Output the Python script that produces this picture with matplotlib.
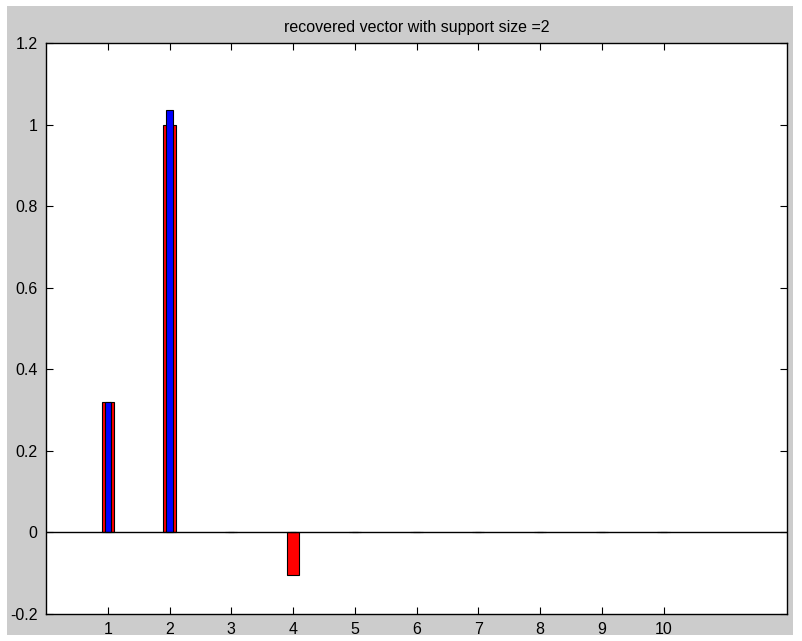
import matplotlib
matplotlib.use('Agg')
from matplotlib import pyplot as plt
from matplotlib.patches import Rectangle

plt.rcParams['font.family'] = ['Liberation Sans', 'DejaVu Sans']

# original vector (red, wide) and recovered vector (blue, narrow)
positions = [1, 2, 3, 4, 5, 6, 7, 8, 9, 10]
original = [0.32, 1.0, 0, -0.105, 0, 0, 0, 0, 0, 0]
recovered = [0.32, 1.035, 0, 0, 0, 0, 0, 0, 0, 0]
y_ticks = [-0.2, 0, 0.2, 0.4, 0.6, 0.8, 1, 1.2]
y_labels = ['-0.2', '0', '0.2', '0.4', '0.6', '0.8', '1', '1.2']

fig = plt.figure(figsize=(8.02, 6.41), dpi=100, facecolor='white')
# grey figure panel with a thin white margin like the screenshot
fig.patches.append(Rectangle((7 / 802, 6 / 641), 786 / 802, 629 / 641,
                             transform=fig.transFigure, facecolor='#cccccc',
                             edgecolor='none', zorder=-1))

ax = fig.add_axes([46 / 802, 27 / 641, 741 / 802, 571 / 641])
ax.set_facecolor('white')

ax.bar(positions, original, width=0.2, color='red', edgecolor='black', linewidth=0.8, zorder=2)
ax.bar(positions, recovered, width=0.1, color='blue', edgecolor='black', linewidth=0.8, zorder=3)
ax.axhline(0, color='black', linewidth=1.0, zorder=4)

ax.set_xlim(0, 12)
ax.set_ylim(-0.2, 1.2)
ax.set_xticks(positions)
ax.set_xticklabels([str(p) for p in positions])
ax.set_yticks(y_ticks)
ax.set_yticklabels(y_labels)
ax.tick_params(direction='in', top=True, right=True, length=5, width=0.8,
               labelsize=11.5, pad=6, colors='black')
for s in ax.spines.values():
    s.set_linewidth(1.0)

ax.set_title('recovered vector with support size =2', fontsize=11.5, pad=8)

plt.savefig('out.png', dpi=100, facecolor=fig.get_facecolor())
